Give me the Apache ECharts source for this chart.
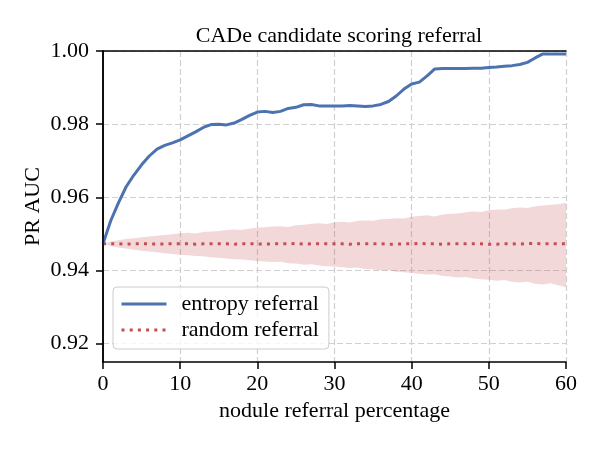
<!DOCTYPE html>
<html><head><meta charset="utf-8">
<script src="https://cdn.jsdelivr.net/npm/echarts@6/dist/echarts.min.js"></script>
<style>html,body{margin:0;padding:0;background:#fff}#c{width:600px;height:450px}</style>
</head><body><div id="c"></div><script>
const pct = [0,1,2,3,4,5,6,7,8,9,10,11,12,13,14,15,16,17,18,19,20,21,22,23,24,25,26,27,28,29,30,31,32,33,34,35,36,37,38,39,40,41,42,43,44,45,46,47,48,49,50,51,52,53,54,55,56,57,58,59,60];
const entropy = [0.9473,0.9536,0.9585,0.9629,0.9661,0.9689,0.9713,0.9732,0.9742,0.9749,0.9757,0.9768,0.9779,0.9791,0.9799,0.9800,0.9798,0.9803,0.9813,0.9824,0.9833,0.9835,0.9832,0.9835,0.9843,0.9846,0.9853,0.9854,0.9850,0.9850,0.9850,0.9850,0.9851,0.9850,0.9848,0.9850,0.9854,0.9862,0.9877,0.9896,0.9910,0.9915,0.9932,0.9951,0.9952,0.9952,0.9952,0.9952,0.9953,0.9953,0.9955,0.9956,0.9958,0.9960,0.9963,0.9969,0.9981,0.9992,0.9992,0.9992,0.9992];
const randomRef = [0.9473,0.9473,0.9473,0.9472,0.9473,0.9473,0.9473,0.9472,0.9473,0.9473,0.9473,0.9473,0.9472,0.9473,0.9473,0.9473,0.9473,0.9472,0.9473,0.9473,0.9473,0.9472,0.9473,0.9473,0.9473,0.9474,0.9472,0.9473,0.9473,0.9473,0.9473,0.9473,0.9472,0.9473,0.9473,0.9473,0.9473,0.9472,0.9472,0.9473,0.9473,0.9474,0.9473,0.9473,0.9472,0.9473,0.9473,0.9473,0.9473,0.9473,0.9472,0.9472,0.9473,0.9473,0.9472,0.9474,0.9474,0.9473,0.9473,0.9473,0.9473];
const randomUpper = [0.9473,0.9479,0.9483,0.9486,0.9488,0.9491,0.9493,0.9495,0.9497,0.9499,0.9502,0.9503,0.9501,0.9505,0.9507,0.9508,0.9511,0.9512,0.9511,0.9515,0.9517,0.9518,0.9520,0.9521,0.9519,0.9524,0.9525,0.9528,0.9529,0.9527,0.9532,0.9533,0.9531,0.9536,0.9537,0.9536,0.9540,0.9541,0.9543,0.9542,0.9547,0.9549,0.9551,0.9548,0.9553,0.9555,0.9556,0.9559,0.9561,0.9560,0.9565,0.9567,0.9566,0.9570,0.9572,0.9571,0.9576,0.9578,0.9580,0.9581,0.9585];
const randomLower = [0.9473,0.9467,0.9463,0.9460,0.9457,0.9454,0.9452,0.9450,0.9447,0.9445,0.9443,0.9442,0.9440,0.9439,0.9436,0.9435,0.9433,0.9431,0.9430,0.9428,0.9426,0.9425,0.9423,0.9424,0.9420,0.9419,0.9416,0.9417,0.9414,0.9412,0.9411,0.9409,0.9407,0.9408,0.9404,0.9403,0.9400,0.9401,0.9397,0.9395,0.9393,0.9391,0.9389,0.9390,0.9385,0.9384,0.9381,0.9382,0.9378,0.9376,0.9375,0.9372,0.9374,0.9369,0.9367,0.9369,0.9364,0.9362,0.9365,0.9360,0.9354];
const yTicks = [0.92,0.94,0.96,0.98,1.00];
const titleText = 'CADe candidate scoring referral';
const xName = 'nodule referral percentage';
const yName = 'PR AUC';
const seriesNames = ['entropy referral','random referral'];

const FONT = 'Liberation Serif';
const pair = (ys) => pct.map((x,i)=>[x, ys[i]]);
const frameAxis = {show:true,axisLine:{show:true,lineStyle:{color:'#000',width:1.5}},axisTick:{show:false},axisLabel:{show:false},splitLine:{show:false},z:10};

const chart = echarts.init(document.getElementById('c'), null, {renderer:'canvas'});
chart.setOption({
  animation:false,
  backgroundColor:'#fff',
  title:{text:titleText,left:334,textAlign:'center',top:20,textStyle:{fontFamily:FONT,fontSize:22,fontWeight:'normal',color:'#000'}},
  grid:{left:103,right:34,top:51,bottom:88,show:false},
  legend:{
    data:seriesNames, left:113, top:287, orient:'vertical',
    itemWidth:45, itemHeight:14, itemGap:4,
    padding:[6,10,8,7],
    borderColor:'#cccccc', borderWidth:1, borderRadius:4,
    backgroundColor:'rgba(255,255,255,0.8)',
    itemStyle:{opacity:0},
    lineStyle:{width:3},
    textStyle:{fontFamily:FONT,fontSize:22,color:'#000',padding:[0,0,0,10]}
  },
  xAxis:[{type:'value',min:0,max:60,interval:10,position:'bottom',
    name:xName,nameLocation:'middle',nameGap:34,
    nameTextStyle:{fontFamily:FONT,fontSize:22,color:'#000'},
    axisLine:{show:true,onZero:false,lineStyle:{color:'#000',width:1.5}},
    axisTick:{show:true,inside:false,length:7,lineStyle:{color:'#000',width:1.5}},
    axisLabel:{fontFamily:FONT,fontSize:22,color:'#000',margin:11},
    splitLine:{show:true,lineStyle:{color:'#d0d0d0',width:1.2,type:[6,3]}}
  },
  Object.assign({type:'value',min:0,max:60,interval:10,position:'top'}, frameAxis)],
  yAxis:[{type:'value',min:0.915,max:1.0,position:'left',
    name:yName,nameLocation:'middle',nameGap:59,nameMoveOverlap:false,
    nameTextStyle:{fontFamily:FONT,fontSize:22,color:'#000'},
    axisLine:{show:true,onZero:false,lineStyle:{color:'#000',width:1.5}},
    axisTick:{show:true,inside:false,length:7,customValues:yTicks,lineStyle:{color:'#000',width:1.5}},
    axisLabel:{fontFamily:FONT,fontSize:22,color:'#000',margin:14,customValues:yTicks,formatter:(v)=>v.toFixed(2)},
    splitLine:{show:true,lineStyle:{color:'#d0d0d0',width:1.2,type:[6,3]}}
  },
  Object.assign({type:'value',min:0.915,max:1.0,position:'right'}, frameAxis)],
  series:[
    {name:'band',type:'custom',silent:true,z:1,clip:true,
      data:pct.map((x,i)=>[x, randomUpper[i], randomLower[i]]),
      encode:{x:0,y:[1,2]},
      renderItem:(params, api)=>{
        if (params.dataIndex !== 0) return null;
        const pts = [];
        for (let i=0;i<pct.length;i++) pts.push(api.coord([pct[i], randomUpper[i]]));
        for (let i=pct.length-1;i>=0;i--) pts.push(api.coord([pct[i], randomLower[i]]));
        return {type:'polygon', shape:{points:pts}, style:{fill:'rgba(196,78,82,0.22)'}};
      }
    },
    {name:seriesNames[1],type:'line',data:pair(randomRef),symbol:'none',color:'#c44e52',lineStyle:{color:'#c44e52',width:3,type:[3,5.2],cap:'butt'},z:3},
    {name:seriesNames[0],type:'line',data:pair(entropy),symbol:'none',color:'#4c72b0',lineStyle:{color:'#4c72b0',width:3},z:4}
  ]
});
</script></body></html>
